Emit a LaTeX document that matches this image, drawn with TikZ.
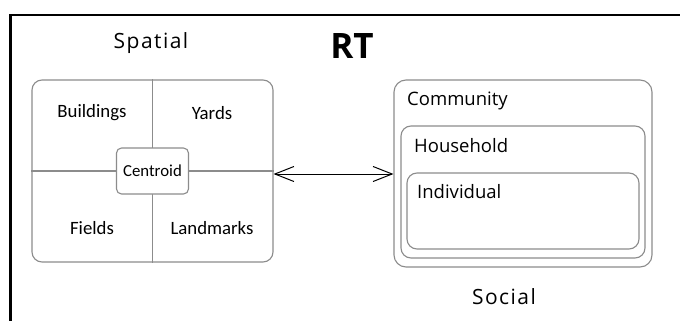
\documentclass[tikz,border=0pt]{standalone}
\usepackage{fontspec}
\setmainfont{Open Sans}
\newfontfamily\labelfont{Carlito}
\newfontfamily\widefont[LetterSpace=7]{Open Sans}
\usetikzlibrary{arrows.meta}

\begin{document}
\begin{tikzpicture}[x=1pt,y=-1pt,
  boxline/.style={draw=black!45, line width=1.1pt},
  panel/.style={boxline, rounded corners=10pt, inner sep=0pt},
  cell/.style={font=\labelfont\fontsize{18.8}{20}\selectfont, inner sep=0pt},
  tag/.style={font=\fontsize{18.5}{20}\selectfont, inner sep=0pt, anchor=west},
  heading/.style={font=\widefont\fontsize{21}{23}\selectfont, inner sep=0pt},
  link/.style={draw=black, line width=1pt,
    {Straight Barb[length=19pt,width=15pt]}-{Straight Barb[length=19pt,width=15pt]}}]

\useasboundingbox (0,0) rectangle (680,321);
\fill[white] (0,0) rectangle (680,321);

% outer frame (top and left edges)
\draw[line width=2.6pt, line cap=rect] (10.5,321) -- (10.5,15) -- (680,15);

% titles
\node[heading] (spatial) at (151,43) {Spatial};
\node[font=\bfseries\fontsize{35}{38}\selectfont, inner sep=0pt] (rt) at (352,46) {RT};
\node[heading] (social) at (504,297) {Social};

% spatial panel with quadrants
\node[panel, minimum width=241pt, minimum height=182pt] (space) at (152.5,171) {};
\draw[boxline] (space.north) -- (space.south);
\draw[boxline] (space.west) -- (space.east);
\node[panel, rounded corners=5pt, fill=white, minimum width=72pt, minimum height=46pt]
  (centroid) at (152.5,171) {};
\node[cell, font=\labelfont\fontsize{16.8}{18}\selectfont] (centroidtext) at (152.5,171) {Centroid};
\node[cell] (buildings) at (92,113) {Buildings};
\node[cell] (yards) at (212,113) {Yards};
\node[cell] (fields) at (92,228) {Fields};
\node[cell] (landmarks) at (212,228) {Landmarks};

% nested social panels
\node[panel, rounded corners=12pt, minimum width=258pt, minimum height=187pt] (community) at (523,173.5) {};
\node[panel, minimum width=244pt, minimum height=132pt] (household) at (523,192) {};
\node[panel, minimum width=232pt, minimum height=76pt] (individual) at (523,211) {};
\node[tag] (communitytext) at (407,101) {Community};
\node[tag] (householdtext) at (414,146) {Household};
\node[tag] (individualtext) at (417,192) {Individual};

% two-way link between the panels
\coordinate (linkL) at (space.east |- 0,174);
\coordinate (linkR) at (community.west |- 0,174);
\draw[link] (linkL) -- (linkR);
\end{tikzpicture}
\end{document}
